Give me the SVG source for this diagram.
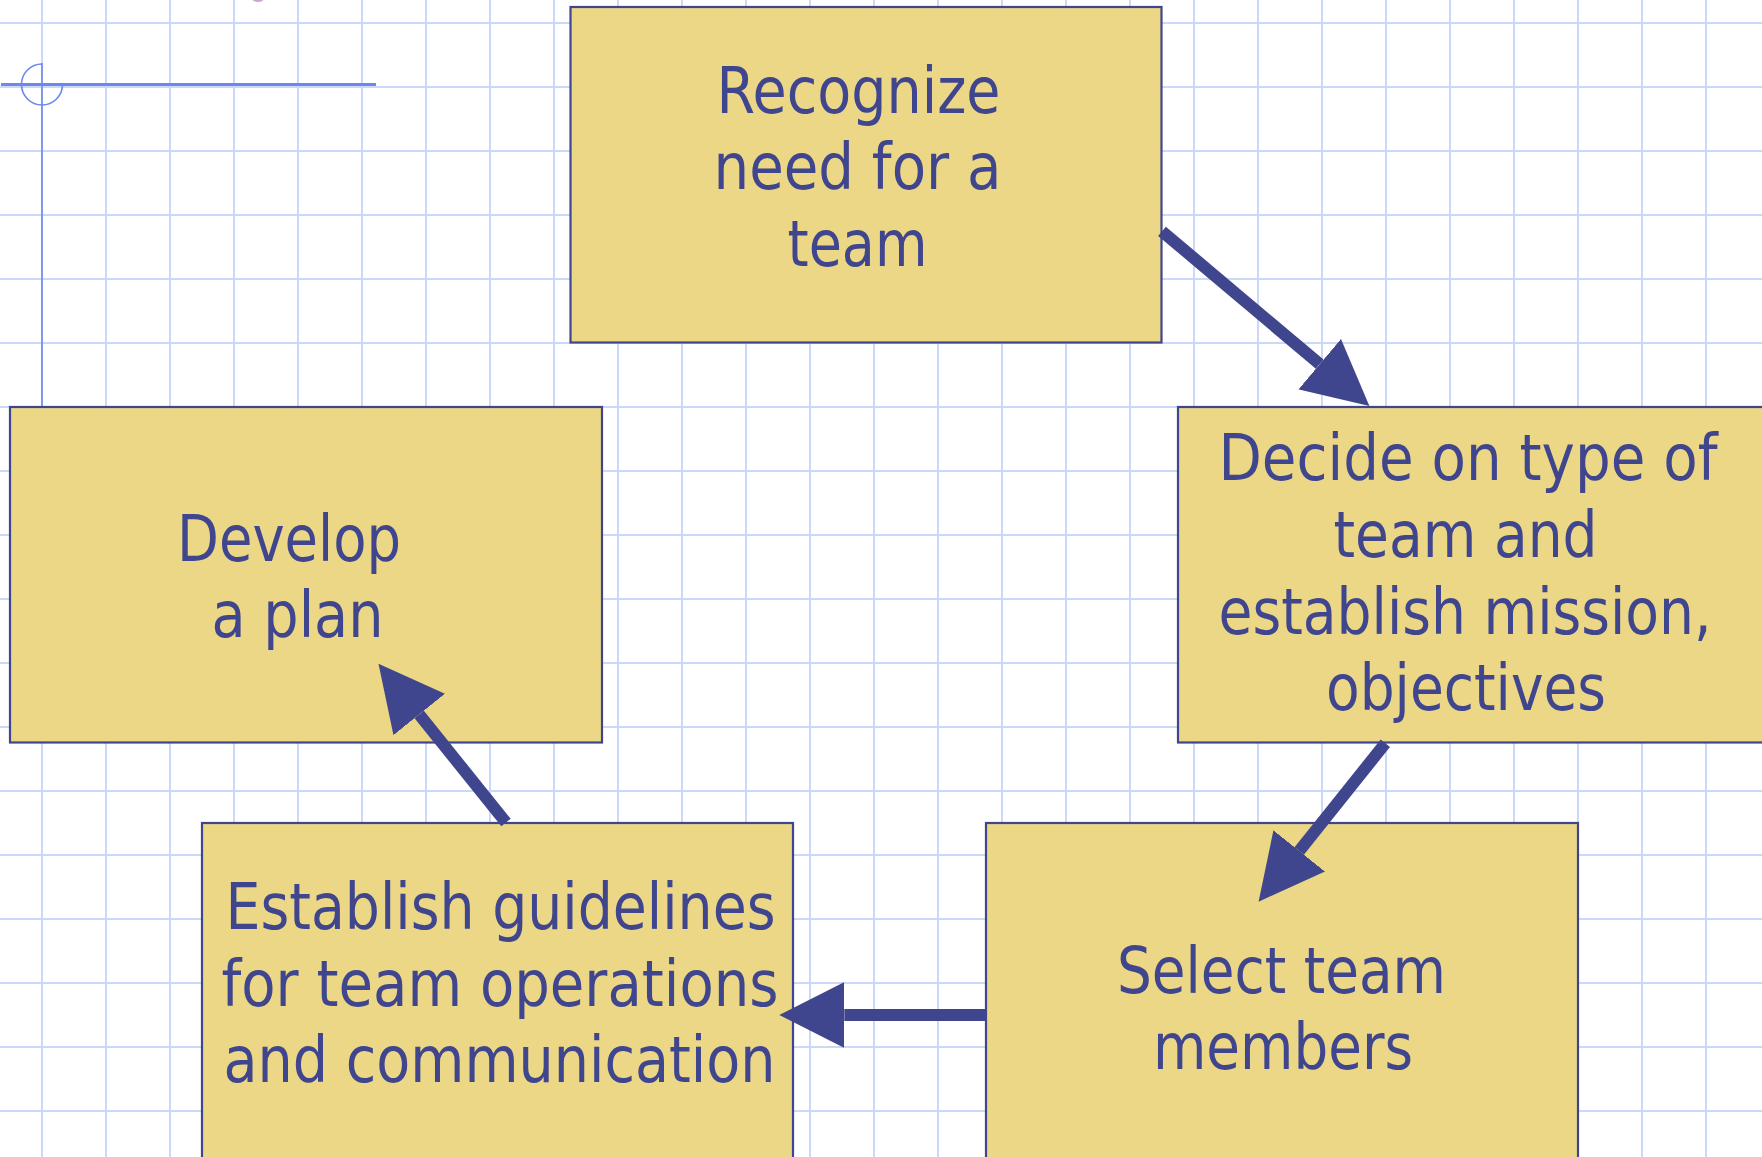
<svg xmlns="http://www.w3.org/2000/svg" width="1762" height="1157" viewBox="0 0 1762 1157">
  <style>
    .grid { stroke: #cbd8f7; stroke-width: 2; fill: none; }
    .guide { stroke: #6d88ee; fill: none; }
    .box { fill: #ebd786; stroke: #40468e; stroke-width: 2.2; }
    .label { font-family: "DejaVu Sans", "Liberation Sans", sans-serif; font-size: 64px; fill: #40468e; text-anchor: middle; }
    .conn { stroke: #40468e; stroke-width: 12; stroke-linecap: butt; fill: none; marker-end: url(#head); }
  </style>
  <defs>
    <marker id="head" viewBox="0 0 65 66" markerUnits="userSpaceOnUse" markerWidth="65" markerHeight="66" refX="0" refY="33" orient="auto">
      <path d="M0,0 L65,33 L0,66 Z" fill="#40468e"/>
    </marker>
  </defs>

  <rect width="1762" height="1157" fill="#ffffff"/>

  <!-- background grid: 64px cells -->
  <path class="grid" d="
    M42,0V1157 M106,0V1157 M170,0V1157 M234,0V1157 M298,0V1157 M362,0V1157 M426,0V1157
    M490,0V1157 M554,0V1157 M618,0V1157 M682,0V1157 M746,0V1157 M810,0V1157 M874,0V1157
    M938,0V1157 M1002,0V1157 M1066,0V1157 M1130,0V1157 M1194,0V1157 M1258,0V1157 M1322,0V1157
    M1386,0V1157 M1450,0V1157 M1514,0V1157 M1578,0V1157 M1642,0V1157 M1706,0V1157
    M0,23H1762 M0,87H1762 M0,151H1762 M0,215H1762 M0,279H1762 M0,343H1762 M0,407H1762
    M0,471H1762 M0,535H1762 M0,599H1762 M0,663H1762 M0,727H1762 M0,791H1762 M0,855H1762
    M0,919H1762 M0,983H1762 M0,1047H1762 M0,1111H1762"/>

  <!-- layout guide: crosshair with open ring -->
  <g id="guide">
    <line class="guide" x1="1" y1="84.5" x2="376" y2="84.5" stroke-width="3"/>
    <line class="guide" x1="42" y1="63" x2="42" y2="407" stroke-width="1.6"/>
    <path class="guide" stroke-width="1.6" d="M42,64 A20.5,20.5 0 1 0 62.5,84.5"/>
    <ellipse cx="258" cy="-1.5" rx="6" ry="3.5" fill="#cfa3d6"/>
  </g>

  <!-- steps -->
  <g id="recognize-need">
    <rect class="box" x="570.5" y="7" width="591" height="335.5"/>
    <text class="label" x="858.5" y="113" textLength="284" lengthAdjust="spacingAndGlyphs">Recognize</text>
    <text class="label" x="857.5" y="189" textLength="288" lengthAdjust="spacingAndGlyphs">need for a</text>
    <text class="label" x="857.5" y="266" textLength="140" lengthAdjust="spacingAndGlyphs">team</text>
  </g>

  <g id="decide-type">
    <rect class="box" x="1178" y="407" width="600" height="335.5"/>
    <text class="label" x="1468" y="480" textLength="499" lengthAdjust="spacingAndGlyphs">Decide on type of</text>
    <text class="label" x="1465.5" y="557" textLength="264" lengthAdjust="spacingAndGlyphs">team and</text>
    <text class="label" x="1465" y="634" textLength="493" lengthAdjust="spacingAndGlyphs">establish mission,</text>
    <text class="label" x="1466" y="710" textLength="280" lengthAdjust="spacingAndGlyphs">objectives</text>
  </g>

  <g id="develop-plan">
    <rect class="box" x="10" y="407" width="592" height="335.5"/>
    <text class="label" x="289" y="561" textLength="224" lengthAdjust="spacingAndGlyphs">Develop</text>
    <text class="label" x="297.5" y="637" textLength="172" lengthAdjust="spacingAndGlyphs">a plan</text>
  </g>

  <g id="establish-guidelines">
    <rect class="box" x="202" y="823" width="591" height="345"/>
    <text class="label" x="500.5" y="929" textLength="550" lengthAdjust="spacingAndGlyphs">Establish guidelines</text>
    <text class="label" x="500" y="1006" textLength="557" lengthAdjust="spacingAndGlyphs">for team operations</text>
    <text class="label" x="499.5" y="1082" textLength="552" lengthAdjust="spacingAndGlyphs">and communication</text>
  </g>

  <g id="select-members">
    <rect class="box" x="986" y="823" width="592" height="345"/>
    <text class="label" x="1281.5" y="993" textLength="329" lengthAdjust="spacingAndGlyphs">Select team</text>
    <text class="label" x="1283" y="1069" textLength="260" lengthAdjust="spacingAndGlyphs">members</text>
  </g>

  <!-- cycle connectors -->
  <g id="connectors">
    <line class="conn" x1="1162" y1="231.3" x2="1319.7" y2="364.2"/>
    <line class="conn" x1="1385.3" y1="743.3" x2="1299.2" y2="850.9"/>
    <line class="conn" x1="986.7" y1="1015" x2="844.3" y2="1015"/>
    <line class="conn" x1="506" y1="822.5" x2="419.2" y2="714.5"/>
  </g>
</svg>
